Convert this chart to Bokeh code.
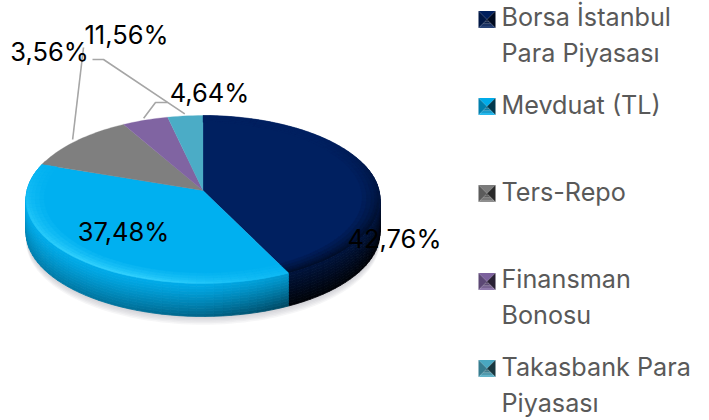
import numpy as np
from bokeh.plotting import figure, ColumnDataSource
from bokeh.core.properties import value
from bokeh.embed import file_html
from bokeh.resources import INLINE

# data
names = ["Borsa İstanbul Para Piyasası", "Mevduat (TL)", "Ters-Repo", "Finansman Bonosu", "Takasbank Para Piyasası"]
shares = [42.76, 37.48, 11.56, 4.64, 3.56]
colors = ["#002060", "#00b0f0", "#7f7f7f", "#8064a2", "#4bacc6"]
label_texts = ["42,76%", "37,48%", "3,56%", "4,64%", "11,56%"]
legend_lines = [["Borsa İstanbul", "Para Piyasası"], ["Mevduat (TL)"], ["Ters-Repo"], ["Finansman", "Bonosu"], ["Takasbank Para", "Piyasası"]]

# layout (page pixels)
W, H = 709, 420
CX, CY, RX, RY, K, DEPTH = 202.5, 190, 176, 83, 0.107, 33
FONT = "Inter"
LABEL_SIZE = "25.5px"
LEGEND_SIZE = "25.2px"
label_pos = [(394, 238), (123, 231), (49, 51), (209, 92), (126, 34)]
legend_y = [19, 106, 193, 281, 368]
legend_text_y = [[16, 52], [104], [191], [278, 314], [366, 402]]
legend_x, legend_text_x, swatch = 486.5, 501, 8.5

rgb = lambda c: np.array([int(c[i:i + 2], 16) for i in (1, 3, 5)], float)
hexc = lambda a: "#%02x%02x%02x" % tuple(int(round(v)) for v in np.clip(a, 0, 255))


def mix(c, target, t):
    return hexc(rgb(c) * (1 - t) + np.array(target, float) * t)


def proj(theta, r=1.0, dy=0.0):
    """Clockwise angle from 12 o'clock to page pixels, with perspective."""
    u, v = np.sin(theta) * r, np.cos(theta) * r
    s = 1 / (1 + K * v)
    return CX + RX * u * s, CY - RY * v * s + dy


frac = np.array(shares) / sum(shares)
edges = np.concatenate([[0], np.cumsum(frac)]) * 2 * np.pi

p = figure(width=W, height=H, x_range=(0, W), y_range=(H, 0), toolbar_location=None,
           output_backend="svg", min_border=0, outline_line_color=None, background_fill_color="white")
p.xaxis.visible = False
p.yaxis.visible = False
p.grid.visible = False

ALL = np.linspace(0, 2 * np.pi, 181)

# soft shadow
for i, grow in enumerate([11, 9, 7, 5, 3, 1]):
    x, y = proj(ALL, 1.0, DEPTH + grow * 0.75)
    p.patch(x, y, fill_color="#9a9aa4", fill_alpha=0.09, line_color=None)

# side wall: deepest layer first, so that each higher layer covers the seam below it
xs, ys, cs = [], [], []
LAYERS = 12
for j in range(LAYERS - 1, -1, -1):
    d0, d1 = j / LAYERS, (j + 1) / LAYERS
    for k in range(5):
        n = max(2, int((edges[k + 1] - edges[k]) / np.radians(2.5)))
        th = np.linspace(edges[k], edges[k + 1], n + 1)
        for a, b in zip(th[:-1], th[1:]):
            m = (a + b) / 2
            if np.cos(m) > 0.35:
                continue
            u = np.sin(m)
            x1, y1 = proj(np.array([a, b]), 1.0, DEPTH * d0)
            x2, y2 = proj(np.array([b, a]), 1.0, DEPTH * d1)
            xs.append(list(x1) + list(x2))
            ys.append(list(y1) + list(y2))
            if k == 0:
                dark = min(0.92, 0.4 + 0.55 * d0)
            else:
                dark = (0.05 + 0.52 * d0 ** 1.15) * (0.5 + 0.6 * (u + 1) / 2)
                dark += 0.22 * np.clip(u, 0, 1)
            cs.append(mix(colors[k], (0, 0, 0), min(dark, 0.95)))
p.patches(xs, ys, fill_color=cs, line_color=cs, line_width=0.8)

# top face
for k in range(5):
    th = np.linspace(edges[k], edges[k + 1], max(3, int((edges[k + 1] - edges[k]) / np.radians(1.5))))
    x, y = proj(th)
    p.patch([CX] + list(x), [CY] + list(y), fill_color=colors[k], line_color=colors[k], line_width=0.3)

# rim bevel on the front of the top face, outermost ring last
xs, ys, cs = [], [], []
rings = [0.90, 0.925, 0.95, 0.97, 0.985, 1.0]
for j in range(len(rings) - 1):
    t = (j + 1) / (len(rings) - 1)
    for k in range(2):
        n = int((edges[k + 1] - edges[k]) / np.radians(2.5))
        th = np.linspace(edges[k], edges[k + 1], n + 1)
        for a, b in zip(th[:-1], th[1:]):
            m = (a + b) / 2
            u, v = np.sin(m), np.cos(m)
            front = np.clip((0.45 - v) / 1.2, 0, 1)
            x1, y1 = proj(np.array([a, b]), rings[j])
            x2, y2 = proj(np.array([b, a]), rings[j + 1])
            xs.append(list(x1) + list(x2))
            ys.append(list(y1) + list(y2))
            if k == 0:
                cs.append(mix(colors[0], (0, 0, 0), 0.55 * t * np.clip((0.7 - v) / 1.2, 0, 1)))
            else:
                cs.append(mix(colors[1], (60, 215, 255), 0.8 * t * front * np.clip(0.7 - u, 0, 1)))
p.patches(xs, ys, fill_color=cs, line_color=cs, line_width=0.4)

# leader lines: from the slice rim to a bend near the label
mid = (edges[:-1] + edges[1:]) / 2
bends = {2: [(83, 47)], 3: [(155, 102), (167, 102)], 4: [(103, 59), (92, 59)]}
for k, pts in bends.items():
    ax, ay = proj(mid[k], 1.03)
    p.line([ax] + [q[0] for q in pts], [ay] + [q[1] for q in pts], line_color="#a6a6a6", line_width=1.6)

# data labels
src = ColumnDataSource(dict(x=[q[0] for q in label_pos], y=[q[1] for q in label_pos], t=label_texts))
p.text("x", "y", "t", source=src, text_font=value(FONT), text_font_size=value(LABEL_SIZE), text_color="#000000",
       text_align="center", text_baseline="middle")

# legend swatches
xs, ys, cs = [], [], []
for c, yc in zip(colors, legend_y):
    L, R, T, B = legend_x - swatch, legend_x + swatch, yc - swatch, yc + swatch
    tris = [([L, R, legend_x], [T, T, yc], mix(c, (0, 0, 0), 0.03)),
            ([L, legend_x, L], [T, yc, B], mix(c, (0, 0, 0), 0.28)),
            ([R, legend_x, R], [T, yc, B], mix(c, (0, 0, 0), 0.68))]
    for tx, ty, tc in tris:
        xs.append(tx); ys.append(ty); cs.append(tc)
    for q in range(4):
        f0, f1 = q / 4, (q + 1) / 4
        xs.append([legend_x - swatch * f0, legend_x + swatch * f0, legend_x + swatch * f1, legend_x - swatch * f1])
        ys.append([yc + swatch * f0, yc + swatch * f0, yc + swatch * f1, yc + swatch * f1])
        cs.append(mix(mix(c, (0, 0, 0), 0.45 - 0.14 * q), (255, 255, 255), 0.05 * q))
p.patches(xs, ys, fill_color=cs, line_color=None)

# legend text
tx, ty, tt = [], [], []
for lines, ylist in zip(legend_lines, legend_text_y):
    for s, yy in zip(lines, ylist):
        tx.append(legend_text_x); ty.append(yy); tt.append(s)
p.text(tx, ty, tt, text_font=value(FONT), text_font_size=value(LEGEND_SIZE), text_color="#595959",
       text_align="left", text_baseline="middle")

open("out.html", "w").write(file_html(p, INLINE))
